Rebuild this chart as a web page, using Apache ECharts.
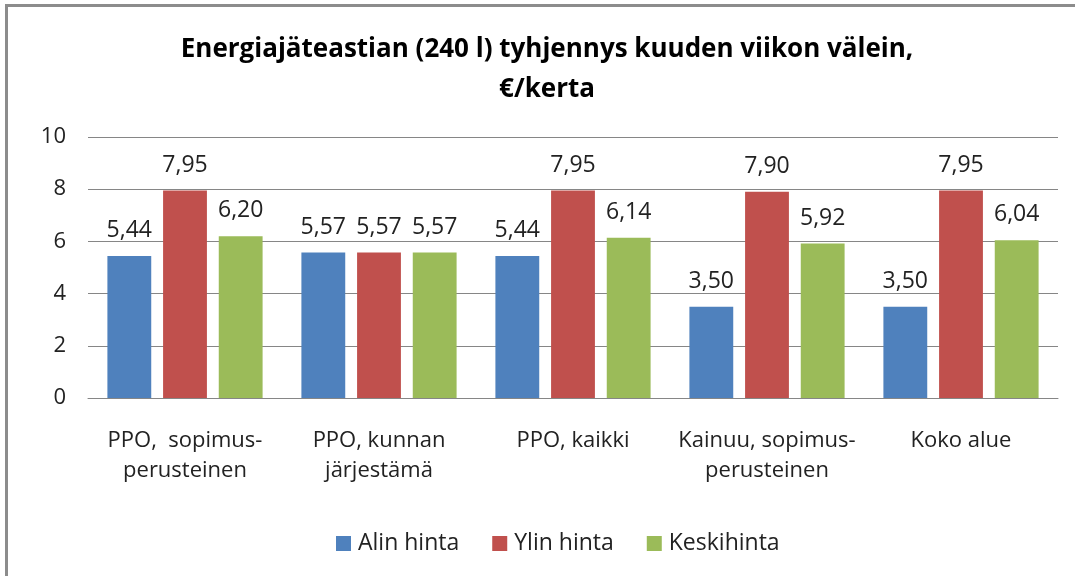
<!DOCTYPE html>
<html>
<head>
<meta charset="utf-8">
<script src="https://cdn.jsdelivr.net/npm/echarts@6/dist/echarts.min.js"></script>
<style>
  html, body { margin: 0; padding: 0; background: #fff; }
  #frame { position: absolute; left: 5px; top: 4px; width: 1080px; height: 580px;
           border-top: 3px solid #8c8c8c; border-left: 3px solid #8c8c8c; }
  #chart { position: absolute; left: 0; top: 0; width: 1075px; height: 576px; }
</style>
</head>
<body>
<div id="frame"></div>
<div id="chart"></div>
<script>
  // 分类与数据
  const categories = [
    'PPO,  sopimus-\nperusteinen',
    'PPO, kunnan\njärjestämä',
    'PPO, kaikki',
    'Kainuu, sopimus-\nperusteinen',
    'Koko alue'
  ];
  const alinHinta = [5.44, 5.57, 5.44, 3.50, 3.50];
  const ylinHinta = [7.95, 5.57, 7.95, 7.90, 7.95];
  const keskiHinta = [6.20, 5.57, 6.14, 5.92, 6.04];
  const seriesNames = ['Alin hinta', 'Ylin hinta', 'Keskihinta'];
  const colors = ['#4F81BD', '#C0504D', '#9BBB59'];

  const font = 'Open Sans';

  const chart = echarts.init(document.getElementById('chart'));

  const makeSeries = (name, data, color) => ({
    name,
    type: 'bar',
    data,
    barGap: '27%',
    barCategoryGap: '20%',
    itemStyle: { color },
    label: {
      show: true,
      position: 'top',
      distance: 14,
      color: '#222',
      fontFamily: font,
      fontSize: 23,
      formatter: (p) => p.value.toFixed(2).replace('.', ',')
    }
  });

  const options = {
    animation: false,
    title: {
      text: 'Energiajäteastian (240 l) tyhjennys kuuden viikon välein,\n€/kerta',
      left: 542,
      textAlign: 'center',
      top: 25,
      textStyle: {
        fontFamily: font,
        fontWeight: 'bold',
        fontSize: 26,
        lineHeight: 40,
        color: '#000'
      }
    },
    legend: {
      bottom: 16,
      left: 331,
      icon: 'rect',
      itemWidth: 15,
      itemHeight: 15,
      itemGap: 33,
      textStyle: { fontFamily: font, fontSize: 23, color: '#222', padding: [0, 0, 0, 2] }
    },
    grid: { left: 88, right: 17, top: 137, bottom: 178 },
    xAxis: {
      type: 'category',
      data: categories,
      axisLine: { lineStyle: { color: '#868686' } },
      axisTick: { show: false },
      axisLabel: {
        margin: 28,
        color: '#222',
        fontFamily: font,
        fontSize: 22,
        lineHeight: 30,
        interval: 0
      }
    },
    yAxis: {
      type: 'value',
      min: 0,
      max: 10,
      interval: 2,
      axisLine: { show: false },
      axisTick: { show: false },
      axisLabel: { margin: 22, color: '#222', fontFamily: font, fontSize: 22 },
      splitLine: { lineStyle: { color: '#868686' } }
    },
    series: [
      makeSeries(seriesNames[0], alinHinta, colors[0]),
      makeSeries(seriesNames[1], ylinHinta, colors[1]),
      makeSeries(seriesNames[2], keskiHinta, colors[2])
    ]
  };

  chart.setOption(options);
</script>
</body>
</html>
